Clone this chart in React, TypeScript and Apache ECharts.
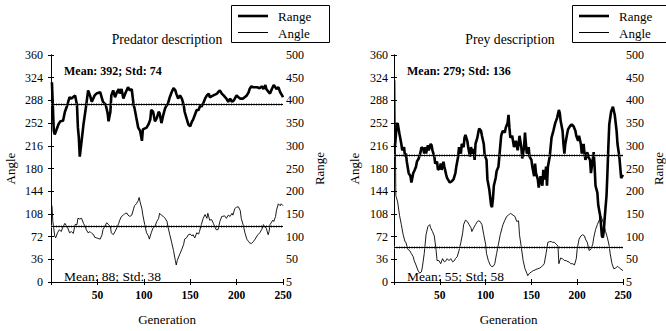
import React, { useEffect, useRef } from "react";
import * as echarts from "echarts";

// ---------- data ----------
const xTicks = [0, 50, 100, 150, 200, 250];
const angleTicks = [0, 360, 36];
const rangeTicks = [0, 500, 50];

const predatorRange: [number, number][] = [
  [1,440],[3,333],[4,325],[8,347],[10,354],[13,355],[15,375],[17,386],[20,407],[22,404],[26,411],[28,390],[29,340],[30,318],[31,276],[33,311],[35,347],[38,390],[40,422],[42,411],[44,397],[47,411],[49,415],[53,418],[55,404],[56,397],[59,390],[61,372],[62,354],[64,375],[65,411],[67,422],[69,407],[71,418],[73,425],[74,415],[76,425],[78,404],[80,415],[83,429],[85,422],[87,425],[89,390],[90,383],[92,361],[94,340],[96,333],[98,311],[99,336],[103,340],[105,347],[107,358],[108,379],[110,375],[112,354],[114,361],[116,375],[117,372],[119,350],[121,368],[123,383],[125,390],[126,393],[128,407],[130,418],[132,427],[134,422],[135,415],[137,404],[139,411],[141,404],[143,390],[144,375],[146,361],[148,347],[150,343],[152,354],[153,357],[155,368],[157,379],[159,379],[161,390],[162,386],[164,393],[166,404],[168,411],[170,415],[171,407],[175,411],[179,415],[180,418],[182,422],[184,415],[186,411],[189,404],[191,397],[193,404],[195,397],[197,400],[198,404],[200,411],[202,407],[204,404],[207,404],[211,411],[213,418],[214,425],[216,431],[218,429],[222,429],[225,427],[227,431],[229,425],[231,434],[232,425],[234,420],[236,415],[238,425],[240,434],[241,431],[243,425],[245,429],[247,418],[249,411],[250,407]
];

const predatorAngle: [number, number][] = [
  [1,121],[2,96],[4,73],[5,70],[7,78],[9,83],[11,80],[13,88],[15,93],[17,88],[18,86],[20,78],[22,80],[24,77],[26,91],[28,91],[29,101],[31,100],[33,101],[35,93],[37,88],[38,83],[40,78],[42,80],[44,77],[46,75],[47,71],[49,70],[51,69],[53,68],[55,75],[56,83],[58,88],[60,94],[62,91],[64,88],[65,78],[67,75],[69,80],[71,86],[73,93],[74,98],[76,104],[78,106],[80,109],[82,109],[83,106],[85,104],[87,106],[89,116],[90,121],[92,124],[94,129],[95,134],[96,127],[98,116],[99,106],[101,91],[103,78],[105,73],[106,68],[107,73],[108,78],[110,86],[112,88],[114,96],[116,101],[117,109],[119,106],[121,104],[123,101],[125,96],[126,88],[128,75],[130,63],[132,50],[134,34],[135,27],[136,34],[139,45],[141,52],[143,60],[144,68],[146,70],[148,75],[150,76],[152,73],[153,75],[155,70],[157,78],[159,76],[160,80],[162,91],[164,101],[166,107],[168,101],[169,109],[171,98],[173,99],[175,93],[177,86],[178,83],[180,83],[182,96],[184,104],[185,104],[187,105],[189,101],[191,106],[193,104],[195,109],[196,106],[198,116],[200,119],[202,119],[204,113],[205,101],[207,91],[209,78],[211,68],[213,64],[214,62],[216,61],[218,64],[220,68],[222,73],[223,75],[225,78],[227,83],[229,91],[230,88],[232,85],[234,75],[235,80],[236,91],[239,98],[240,96],[242,104],[243,114],[245,124],[247,121],[248,124],[250,121]
];

const preyRange: [number, number][] = [
  [1,297],[3,347],[4,350],[6,326],[8,304],[9,290],[11,297],[12,276],[13,283],[14,265],[16,240],[18,233],[19,219],[20,229],[21,240],[22,244],[24,254],[25,265],[27,272],[29,286],[30,297],[32,293],[33,283],[34,297],[35,283],[37,301],[38,290],[40,304],[41,301],[42,290],[44,276],[45,261],[47,265],[48,247],[50,251],[51,261],[52,247],[54,265],[55,254],[57,236],[58,229],[60,222],[61,219],[63,222],[65,226],[67,240],[68,254],[70,276],[71,297],[73,283],[74,304],[76,297],[77,318],[78,324],[80,311],[81,297],[83,276],[84,297],[86,283],[87,293],[88,269],[89,304],[91,318],[92,329],[93,338],[95,333],[96,322],[98,304],[99,279],[101,269],[102,226],[104,204],[105,187],[106,169],[107,165],[108,183],[109,212],[111,229],[112,244],[114,254],[115,276],[117,322],[118,329],[119,333],[121,329],[122,340],[124,350],[125,368],[126,340],[127,318],[129,322],[131,297],[133,311],[135,290],[136,304],[137,322],[139,297],[140,272],[142,297],[143,329],[144,304],[145,283],[147,297],[148,276],[150,269],[151,254],[153,233],[154,261],[155,240],[157,226],[158,208],[159,219],[160,233],[162,212],[163,247],[165,226],[166,254],[167,212],[168,254],[170,276],[171,297],[172,318],[174,333],[176,350],[178,361],[180,379],[181,372],[182,354],[184,333],[185,304],[186,283],[187,304],[189,326],[190,336],[192,343],[194,347],[196,343],[198,333],[199,322],[201,311],[202,322],[204,304],[205,283],[207,304],[208,283],[209,269],[211,286],[212,276],[214,269],[215,240],[217,269],[218,286],[219,254],[220,212],[222,197],[223,169],[225,147],[226,126],[227,101],[228,98],[229,112],[230,140],[232,190],[233,240],[234,297],[235,347],[237,375],[239,386],[241,368],[243,333],[244,304],[246,276],[248,229],[250,236]
];

const preyAngle: [number, number][] = [
  [1,320],[2,137],[4,127],[6,106],[8,91],[10,75],[12,64],[13,63],[15,52],[17,50],[19,45],[21,40],[22,34],[24,27],[26,19],[28,14],[30,16],[31,24],[33,45],[35,75],[37,88],[39,91],[40,86],[42,80],[44,73],[46,50],[47,34],[49,34],[51,29],[53,37],[55,32],[57,34],[58,37],[60,34],[62,37],[64,32],[66,34],[67,37],[69,40],[71,50],[73,63],[75,78],[76,91],[78,98],[80,96],[82,91],[84,86],[85,80],[87,86],[89,91],[91,96],[92,97],[94,96],[96,91],[98,75],[100,60],[101,45],[103,34],[105,27],[107,24],[109,26],[110,29],[112,45],[114,60],[116,75],[118,86],[119,91],[121,98],[123,104],[125,106],[127,109],[128,108],[130,106],[132,104],[134,96],[136,97],[137,75],[139,55],[141,34],[143,21],[145,14],[146,10],[148,14],[150,16],[152,18],[154,19],[155,20],[157,21],[159,22],[161,24],[163,27],[164,29],[166,45],[168,63],[170,64],[172,64],[173,63],[175,63],[177,60],[179,57],[180,29],[181,34],[182,38],[184,37],[186,34],[188,34],[190,32],[191,32],[193,29],[195,29],[197,27],[199,37],[200,52],[202,68],[204,73],[206,75],[208,73],[209,68],[211,63],[213,50],[215,52],[217,60],[218,70],[220,83],[222,91],[224,98],[226,104],[227,101],[229,91],[231,80],[233,70],[235,57],[236,45],[238,29],[240,21],[242,22],[244,25],[245,24],[247,21],[249,19],[250,18]
];

const panelTitles = ["Predator description", "Prey description"];
const rangeMeans = [392, 279];
const rangeStds = [74, 136];
const angleMeans = [88, 55];
const angleStds = [38, 58];
const legendNames = ["Range", "Angle"];

// ---------- layout ----------
const FONT = "Liberation Serif";
const GRID_LEFTS = [51, 394];
const GRID_TOP = 55;
const GRID_W = 232;
const GRID_H = 234;
const LEGEND_LEFTS = [231, 572];

function txt(text: string, x: number, y: number, size: number, align: string, weight = "normal", z = 10) {
  return {
    type: "text",
    x,
    y,
    z,
    style: {
      text,
      fontFamily: FONT,
      fontSize: size,
      fontWeight: weight,
      fill: "#000",
      align,
      verticalAlign: "middle",
      textAlign: align,
      textVerticalAlign: "middle",
    },
  };
}

function buildOption() {
  const grids = GRID_LEFTS.map((left) => ({
    left,
    top: GRID_TOP,
    width: GRID_W,
    height: GRID_H,
    containLabel: false,
  }));

  const tick = { show: true, inside: true, length: 3, lineStyle: { color: "#000" } };
  const line = { show: true, lineStyle: { color: "#000", width: 1 } };

  const xAxes: any[] = [];
  const yAxes: any[] = [];
  GRID_LEFTS.forEach((_, gi) => {
    xAxes.push({
      type: "value",
      gridIndex: gi,
      min: xTicks[0],
      max: xTicks[xTicks.length - 1],
      interval: xTicks[1] - xTicks[0],
      name: "Generation",
      nameLocation: "middle",
      nameGap: 31,
      nameTextStyle: { fontFamily: FONT, fontSize: 13, color: "#000" },
      axisLine: line,
      axisTick: tick,
      axisLabel: {
        margin: 7,
        fontFamily: FONT,
        fontSize: 11.5,
        fontWeight: "bold",
        color: "#000",
        formatter: (v: number) => (v === 0 ? "" : String(v)),
      },
      splitLine: { show: false },
    });
    xAxes.push({
      type: "value",
      gridIndex: gi,
      position: "top",
      min: xTicks[0],
      max: xTicks[xTicks.length - 1],
      interval: xTicks[1] - xTicks[0],
      axisLine: line,
      axisTick: tick,
      axisLabel: { show: false },
      splitLine: { show: false },
    });
    yAxes.push({
      type: "value",
      gridIndex: gi,
      position: "left",
      min: angleTicks[0],
      max: angleTicks[1],
      interval: angleTicks[2],
      name: "Angle",
      nameLocation: "middle",
      nameGap: gi === 0 ? 34 : 33,
      nameTextStyle: { fontFamily: FONT, fontSize: 13, color: "#000" },
      axisLine: line,
      axisTick: tick,
      axisLabel: { margin: gi === 0 ? 8 : 6, fontFamily: FONT, fontSize: 12, color: "#000" },
      splitLine: { show: false },
    });
    yAxes.push({
      type: "value",
      gridIndex: gi,
      position: "right",
      min: rangeTicks[0],
      max: rangeTicks[1],
      interval: rangeTicks[2],
      name: "Range",
      nameLocation: "middle",
      nameGap: gi === 0 ? 30 : 29,
      nameTextStyle: { fontFamily: FONT, fontSize: 13, color: "#000" },
      axisLine: line,
      axisTick: tick,
      axisLabel: {
        margin: 3,
        fontFamily: FONT,
        fontSize: 12,
        color: "#000",
        formatter: (v: number) => (v === 0 ? "5" : String(v)),
      },
      splitLine: { show: false },
    });
  });

  const meanLine = (value: number) => ({
    silent: true,
    symbol: ["none", "none"],
    label: { show: false },
    data: [
      { yAxis: value, lineStyle: { color: "#777", width: 2.6, type: [1, 1.5] } },
      { yAxis: value, lineStyle: { color: "#000", width: 1.1, type: "solid" } },
    ],
  });

  const rangeSets = [predatorRange, preyRange];
  const angleSets = [predatorAngle, preyAngle];
  const series: any[] = [];
  GRID_LEFTS.forEach((_, gi) => {
    series.push({
      name: legendNames[0],
      type: "line",
      xAxisIndex: gi * 2,
      yAxisIndex: gi * 2 + 1,
      data: rangeSets[gi],
      symbol: "none",
      showSymbol: false,
      lineStyle: { color: "#000", width: 2.6 },
      markLine: meanLine(rangeMeans[gi]),
      z: 3,
    });
    series.push({
      name: legendNames[1],
      type: "line",
      xAxisIndex: gi * 2,
      yAxisIndex: gi * 2,
      data: angleSets[gi],
      symbol: "none",
      showSymbol: false,
      lineStyle: { color: "#000", width: 0.9 },
      markLine: meanLine(angleMeans[gi]),
      z: 3,
    });
  });

  const graphic: any[] = [];
  GRID_LEFTS.forEach((left, gi) => {
    graphic.push(txt(panelTitles[gi], left + GRID_W / 2, 39, 13.7, "center"));
    graphic.push(txt(`Mean: ${rangeMeans[gi]}; Std: ${rangeStds[gi]}`, left + 13, 71, 12, "left", "bold"));
    graphic.push(txt(`Mean: ${angleMeans[gi]}; Std: ${angleStds[gi]}`, left + 13, 276, 13.5, "left"));
    const lx = LEGEND_LEFTS[gi];
    graphic.push({
      type: "rect",
      z: 20,
      shape: { x: lx + 0.5, y: 5.5, width: 98, height: 37 },
      style: { fill: "#fff", stroke: "#000", lineWidth: 1 },
    });
    graphic.push({
      type: "line",
      z: 21,
      shape: { x1: lx + 7, y1: 16, x2: lx + 37, y2: 16 },
      style: { stroke: "#000", lineWidth: 2.6 },
    });
    graphic.push({
      type: "line",
      z: 21,
      shape: { x1: lx + 7, y1: 32.5, x2: lx + 37, y2: 32.5 },
      style: { stroke: "#000", lineWidth: 1 },
    });
    legendNames.forEach((nm, i) => {
      graphic.push(txt(nm, lx + 47, i === 0 ? 16 : 33, 13, "left", "normal", 21));
    });
  });

  return {
    animation: false,
    backgroundColor: "#fff",
    textStyle: { fontFamily: FONT },
    grid: grids,
    xAxis: xAxes,
    yAxis: yAxes,
    series,
    graphic,
  };
}

export default function App() {
  const ref = useRef<HTMLDivElement>(null);
  useEffect(() => {
    if (!ref.current) return;
    const chart = echarts.init(ref.current, undefined, { renderer: "svg" });
    chart.setOption(buildOption() as any);
    return () => chart.dispose();
  }, []);
  return (
    <div
      ref={ref}
      style={{ position: "fixed", left: 0, top: 0, width: 666, height: 331, background: "#fff" }}
    />
  );
}
